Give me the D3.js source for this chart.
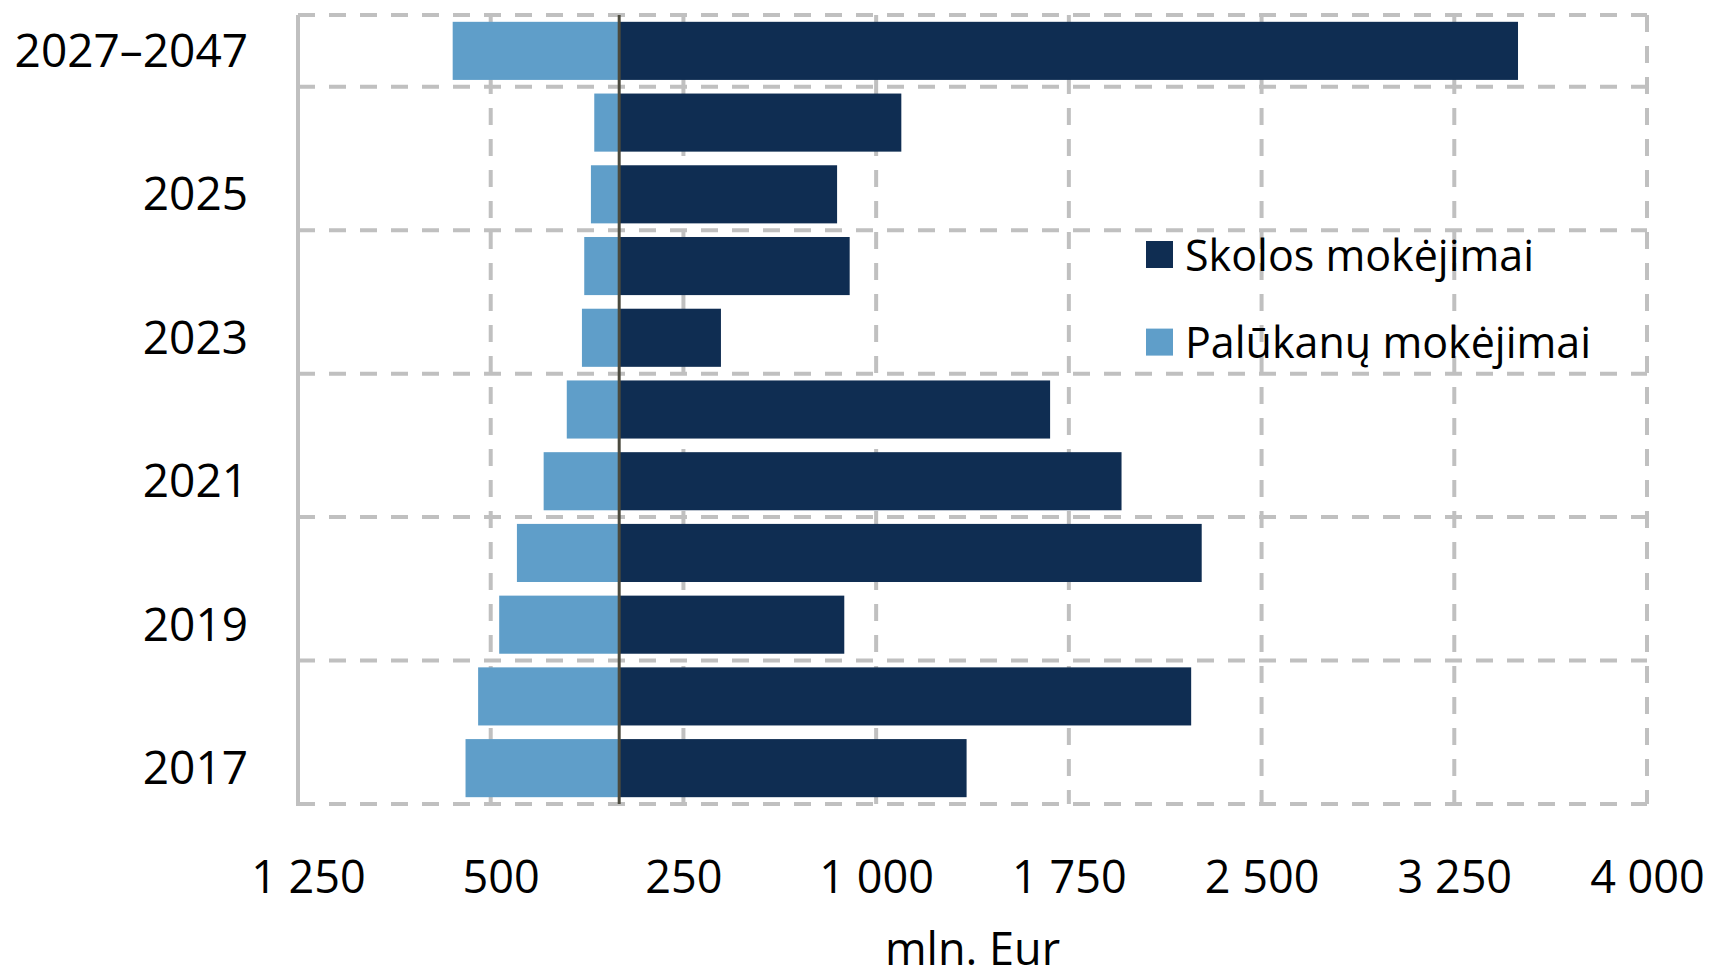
<!DOCTYPE html>
<html>
<head>
<meta charset="utf-8">
<script src="https://cdn.jsdelivr.net/npm/d3@7"></script>
<style>
  body { margin: 0; background: #fff; }
  svg text { font-family: "Open Sans", "Noto Sans", sans-serif; fill: #000; }
</style>
</head>
<body>
<div id="chart"></div>
<script>
const width = 1710;
const height = 970;
const marginTop = 15;
const marginRight = 63;
const marginBottom = 166;
const marginLeft = 298;

// data, bottom row first
const categories = ["2017", "2018", "2019", "2020", "2021", "2022", "2023", "2024", "2025", "2026", "2027–2047"];
const skolos = [1352, 2226, 876, 2267, 1955, 1677, 396, 897, 848, 1098, 3498];
const palukanu = [598, 549, 467, 398, 294, 204, 145, 136, 110, 97, 648];
const xTicks = [-1250, -500, 250, 1000, 1750, 2500, 3250, 4000];
const seriesNames = ["Skolos mokėjimai", "Palūkanų mokėjimai"];
const colors = ["#0f2d52", "#5f9ec9"];

const gridColor = "#c0c0c0";
const fmt = d3.formatLocale({ decimal: ",", thousands: " ", grouping: [3] }).format(",");

const svg = d3.select("#chart")
  .append("svg")
  .attr("width", width)
  .attr("height", height);

const x = d3.scaleLinear()
  .domain([-1250, 4000])
  .range([marginLeft, width - marginRight]);

const rows = d3.scaleBand()
  .domain(categories.slice().reverse())
  .range([marginTop, height - marginBottom]);

const y = d3.scaleBand()
  .domain(categories.slice().reverse())
  .range([marginTop, height - marginBottom])
  .paddingInner(0.19)
  .paddingOuter(0.095);

const plotTop = marginTop, plotBottom = height - marginBottom;

// vertical dashed grid
svg.append("g")
  .selectAll("line")
  .data(xTicks.slice(1))
  .join("line")
  .attr("x1", d => x(d)).attr("x2", d => x(d))
  .attr("y1", plotTop).attr("y2", plotBottom)
  .attr("stroke", gridColor)
  .attr("stroke-width", 4)
  .attr("stroke-dasharray", "17,14");

// horizontal dashed grid, every second category boundary plus top and bottom
const hLines = categories.filter((c, i) => i % 2 === 1).map(c => rows(c));
hLines.push(plotTop, plotBottom);
svg.append("g")
  .selectAll("line")
  .data(hLines)
  .join("line")
  .attr("x1", marginLeft).attr("x2", width - marginRight)
  .attr("y1", d => d).attr("y2", d => d)
  .attr("stroke", gridColor)
  .attr("stroke-width", 4)
  .attr("stroke-dasharray", "17,14");

// left axis line (solid)
svg.append("line")
  .attr("x1", marginLeft).attr("x2", marginLeft)
  .attr("y1", plotTop).attr("y2", plotBottom + 2)
  .attr("stroke", gridColor)
  .attr("stroke-width", 4);

// bars
svg.append("g")
  .selectAll("rect")
  .data(categories)
  .join("rect")
  .attr("x", x(0))
  .attr("y", d => y(d))
  .attr("width", (d, i) => x(skolos[i]) - x(0))
  .attr("height", y.bandwidth())
  .attr("fill", colors[0]);

svg.append("g")
  .selectAll("rect")
  .data(categories)
  .join("rect")
  .attr("x", (d, i) => x(-palukanu[i]))
  .attr("y", d => y(d))
  .attr("width", (d, i) => x(0) - x(-palukanu[i]))
  .attr("height", y.bandwidth())
  .attr("fill", colors[1]);

// zero line
svg.append("line")
  .attr("x1", x(0)).attr("x2", x(0))
  .attr("y1", plotTop).attr("y2", plotBottom)
  .attr("stroke", "#4b4a3e")
  .attr("stroke-width", 3);

// category labels (every second one)
const yAxis = svg.append("g")
  .attr("transform", `translate(${marginLeft - 50},0)`)
  .call(d3.axisLeft(rows)
    .tickValues(categories.filter((c, i) => i % 2 === 0))
    .tickSize(0)
    .tickPadding(0));
yAxis.select(".domain").remove();
yAxis.selectAll("text")
  .attr("dy", "0.35em")
  .style("font-size", "46px")
  .style("font-family", null);

// value labels
const xAxis = svg.append("g")
  .attr("transform", `translate(0,${plotBottom})`)
  .call(d3.axisBottom(x)
    .tickValues(xTicks)
    .tickSize(0)
    .tickPadding(0)
    .tickFormat(d => fmt(Math.abs(d))));
xAxis.select(".domain").remove();
xAxis.selectAll("text")
  .attr("y", 89)
  .attr("dy", 0)
  .attr("dx", d => d < 0 ? 10 : 0)
  .style("font-size", "45px")
  .style("font-family", null);

svg.append("text")
  .attr("x", (x.range()[0] + x.range()[1]) / 2)
  .attr("y", 965)
  .attr("text-anchor", "middle")
  .style("font-size", "45px")
  .text("mln. Eur");

// legend
const legend = svg.append("g")
  .selectAll("g")
  .data(seriesNames)
  .join("g")
  .attr("transform", (d, i) => `translate(1146,${270.5 + i * 87.6})`);

legend.append("rect")
  .attr("x", 0)
  .attr("y", -29.5)
  .attr("width", 27)
  .attr("height", 27)
  .attr("fill", (d, i) => colors[i]);

legend.append("text")
  .attr("x", 39)
  .attr("y", 0)
  .style("font-size", "43px")
  .text(d => d);
</script>
</body>
</html>
